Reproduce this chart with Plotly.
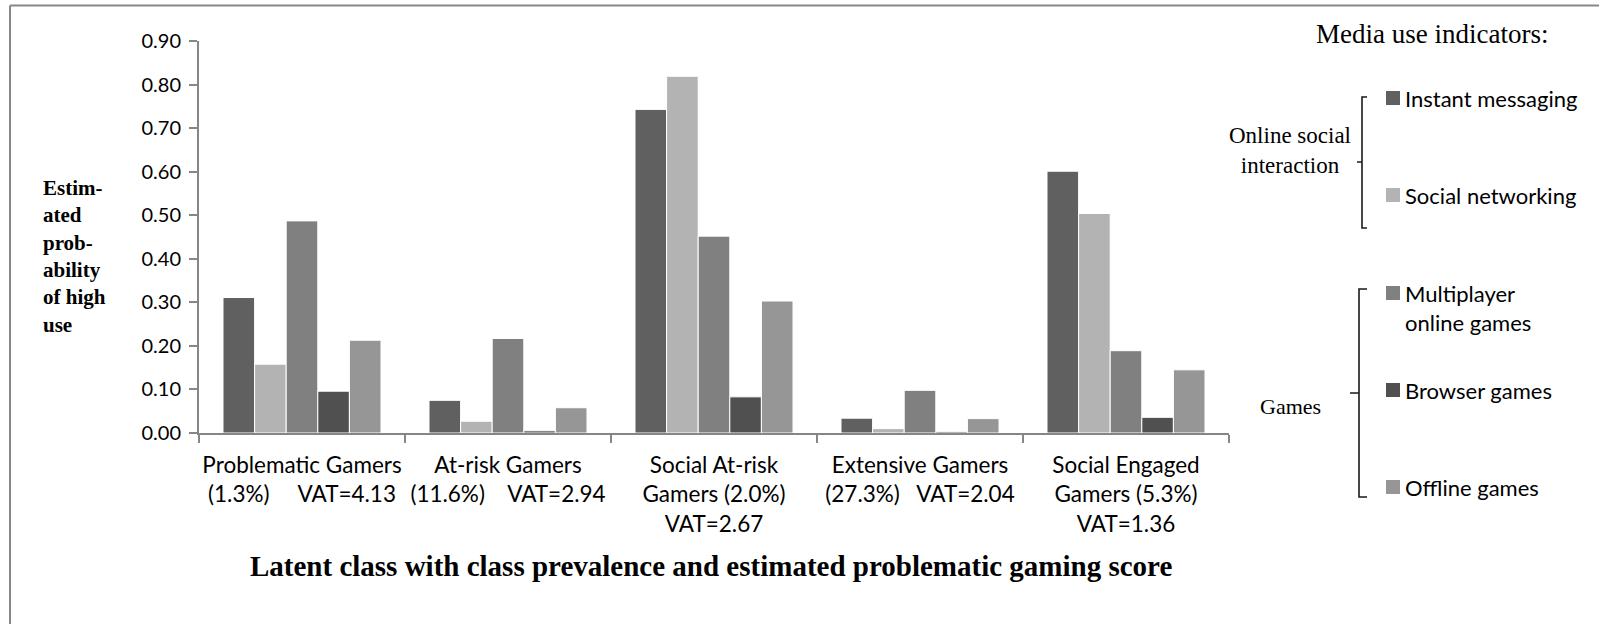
import plotly.graph_objects as go

# ---------------- data ----------------
categories = ["Problematic Gamers", "At-risk Gamers", "Social At-risk Gamers",
              "Extensive Gamers", "Social Engaged Gamers"]
tick_labels = [
    "Problematic Gamers<br>(1.3%)\u00a0\u00a0\u00a0\u00a0\u00a0VAT=4.13",
    "At-risk Gamers<br>(11.6%)\u00a0\u00a0\u00a0\u00a0VAT=2.94",
    "Social At-risk<br>Gamers (2.0%)<br>VAT=2.67",
    "Extensive Gamers<br>(27.3%)\u00a0\u00a0\u00a0VAT=2.04",
    "Social Engaged<br>Gamers (5.3%)<br>VAT=1.36",
]
series_names = ["Instant messaging", "Social networking",
                "Multiplayer<br>online games", "Browser games", "Offline games"]
instant_messaging = [0.311, 0.075, 0.743, 0.034, 0.601]
social_networking = [0.158, 0.027, 0.819, 0.010, 0.504]
multiplayer_online = [0.487, 0.217, 0.452, 0.098, 0.189]
browser_games = [0.096, 0.005, 0.083, 0.003, 0.036]
offline_games = [0.213, 0.058, 0.303, 0.033, 0.145]
series_values = [instant_messaging, social_networking, multiplayer_online,
                 browser_games, offline_games]
series_colors = ["#606060", "#b3b3b3", "#808080", "#505050", "#969696"]
y_ticks = [0.0, 0.1, 0.2, 0.3, 0.4, 0.5, 0.6, 0.7, 0.8, 0.9]

# ---------------- layout geometry (pixels) ----------------
W, H = 1599, 624
L, R, T, B = 199, 1229, 41, 433


def ppx(x):
    return (x - L) / (R - L)


def ppy(y):
    return (B - y) / (B - T)


SANS = "Lato"
SERIF = "Liberation Serif"

fig = go.Figure()
for name, vals, col in zip(series_names, series_values, series_colors):
    fig.add_trace(go.Bar(
        x=categories, y=vals, name=name.replace("<br>", " "),
        marker=dict(color=col, line=dict(color="white", width=1)),
        showlegend=False,
    ))

shapes = []
annotations = []

# page border (top + left)
shapes.append(dict(type="line", xref="paper", yref="paper",
                   x0=ppx(10), y0=ppy(624), x1=ppx(10), y1=ppy(5.5),
                   line=dict(color="#888888", width=2)))
shapes.append(dict(type="line", xref="paper", yref="paper",
                   x0=ppx(10), y0=ppy(5.5), x1=ppx(1599), y1=ppy(5.5),
                   line=dict(color="#888888", width=2)))


def bracket(xv, ytop, ybot, ymid, hook, nub):
    pts = [
        f"M{ppx(xv + hook)},{ppy(ytop)} L{ppx(xv)},{ppy(ytop)} L{ppx(xv)},{ppy(ybot)} L{ppx(xv + hook)},{ppy(ybot)}",
        f"M{ppx(xv - nub)},{ppy(ymid)} L{ppx(xv)},{ppy(ymid)}",
    ]
    return dict(type="path", xref="paper", yref="paper", path=" ".join(pts),
                line=dict(color="#1a1a1a", width=1.6))


shapes.append(bracket(1362, 97, 228, 162, 5, 5))
shapes.append(bracket(1359, 289, 497, 393, 8, 9))


def note(text, x, y, size, family, xanchor="center", align="center"):
    return dict(text=text, xref="paper", yref="paper", x=ppx(x), y=ppy(y),
                xanchor=xanchor, yanchor="middle", align=align, showarrow=False,
                font=dict(family=family, size=size, color="#000000"))


# manual legend (square swatch + label) placed beside the brackets
legend_first_line_y = [98, 195, 293, 390, 487]
legend_text_y = [98, 195, 307.5, 390, 487]
for name, col, sy, ty in zip(series_names, series_colors, legend_first_line_y, legend_text_y):
    shapes.append(dict(type="rect", xref="paper", yref="paper",
                       x0=ppx(1386), x1=ppx(1400), y0=ppy(sy + 7), y1=ppy(sy - 7),
                       fillcolor=col, line=dict(width=0)))
    annotations.append(note(name, 1403, ty, 22, SANS, xanchor="left", align="left"))

annotations += [
    note("<b>Estim-<br>ated<br>prob-<br>ability<br>of high<br>use</b>", 41, 256, 21, SERIF,
         xanchor="left", align="left"),
    note("<b>Latent class with class prevalence and estimated problematic gaming score</b>",
         711, 566, 29, SERIF),
    note("Media use indicators:", 1432, 34, 27, SERIF),
    note("Online social<br>interaction", 1290, 150, 23, SERIF),
    note("Games", 1290, 406, 22, SERIF),
]

fig.update_layout(
    width=W, height=H,
    margin=dict(l=L, r=W - R, t=T, b=H - B, pad=0, autoexpand=False),
    paper_bgcolor="white", plot_bgcolor="white",
    barmode="group", bargap=0.233, bargroupgap=0,
    showlegend=False,
    shapes=shapes, annotations=annotations,
)
fig.update_xaxes(
    type="category", tickvals=categories, ticktext=tick_labels, tickangle=0,
    showline=True, linecolor="#868686", linewidth=2,
    ticks="outside", tickson="boundaries", ticklen=8, tickcolor="#868686", tickwidth=2,
    ticklabelstandoff=11,
    tickfont=dict(family=SANS, size=22.5, color="#000000"),
    showgrid=False, zeroline=False, automargin=False,
)
fig.update_yaxes(
    range=[0, 0.9], tickvals=y_ticks, tickformat=".2f",
    showline=True, linecolor="#868686", linewidth=2,
    ticks="outside", ticklen=8, tickcolor="#868686", tickwidth=2,
    ticklabelstandoff=4,
    tickfont=dict(family=SANS, size=20, color="#000000"),
    showgrid=False, zeroline=False, automargin=False,
)

fig.write_html("out.html")
